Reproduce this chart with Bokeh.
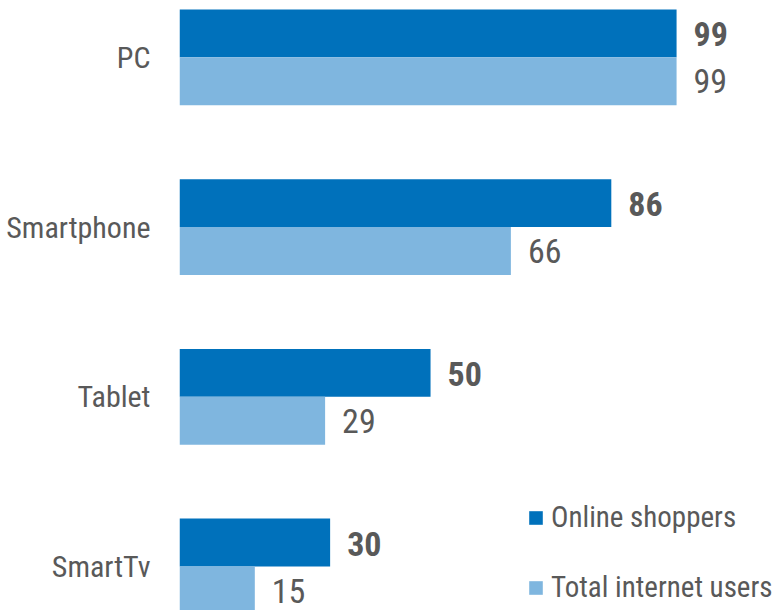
from bokeh.plotting import figure
from bokeh.models import Range1d, ColumnDataSource, Legend, LegendItem, FixedTicker
from bokeh.transform import dodge
from bokeh.embed import file_html
from bokeh.resources import INLINE
from bokeh.core.properties import value

categories = ["PC", "Smartphone", "Tablet", "SmartTv"]
online_shoppers = [99, 86, 50, 30]
total_internet_users = [99, 66, 29, 15]
series_names = ["Online shoppers", "Total internet users"]

FONT = "'Roboto Condensed', 'Liberation Sans Narrow', Roboto, sans-serif"
TEXT_COLOR = "#595959"
DARK = "#0071BB"
LIGHT = "#7FB6DF"

n = len(categories)
ypos = [n - 1 - i for i in range(n)]

src = ColumnDataSource(dict(
    y=ypos, cat=categories,
    a=online_shoppers, b=total_internet_users,
    a_lbl=[str(v) for v in online_shoppers],
    b_lbl=[str(v) for v in total_internet_users],
))

p = figure(width=777, height=610, output_backend="svg", toolbar_location=None,
           x_range=Range1d(0, 119.1), y_range=Range1d(-0.259, 3.335),
           min_border_left=179, min_border_right=0, min_border_top=0, min_border_bottom=0)
p.outline_line_color = None
p.grid.visible = False
p.xaxis.visible = False
p.background_fill_color = "white"
p.border_fill_color = "white"

yax = p.yaxis[0]
yax.ticker = FixedTicker(ticks=ypos)
yax.major_label_overrides = {y: c for y, c in zip(ypos, categories)}
yax.axis_line_color = None
yax.major_tick_line_color = None
yax.minor_tick_line_color = None
yax.major_tick_out = 0
yax.major_tick_in = 0
yax.major_label_standoff = 29
yax.major_label_text_font = FONT
yax.major_label_text_font_size = "30px"
yax.major_label_text_color = TEXT_COLOR

h = 0.2824
off = h / 2
r1 = p.hbar(y=dodge("y", off, range=p.y_range), right="a", left=0, height=h,
            source=src, fill_color=DARK, line_color=None)
r2 = p.hbar(y=dodge("y", -off, range=p.y_range), right="b", left=0, height=h,
            source=src, fill_color=LIGHT, line_color=None)

p.text(x="a", y=dodge("y", off, range=p.y_range), text="a_lbl", source=src,
       x_offset=17, y_offset=1, text_baseline="middle", text_align="left",
       text_font=value(FONT), text_font_style="bold", text_font_size="34px",
       text_color=TEXT_COLOR)
p.text(x="b", y=dodge("y", -off, range=p.y_range), text="b_lbl", source=src,
       x_offset=17, y_offset=0, text_baseline="middle", text_align="left",
       text_font=value(FONT), text_font_size="34px",
       text_color=TEXT_COLOR)

legend = Legend(items=[LegendItem(label=series_names[0], renderers=[r1]),
                       LegendItem(label=series_names[1], renderers=[r2])],
                location=(348, 6), orientation="vertical",
                glyph_width=17, glyph_height=17, label_standoff=7,
                padding=0, margin=0, spacing=36,
                border_line_color=None, background_fill_alpha=0,
                label_text_font=FONT, label_text_font_size="29px",
                label_text_color=TEXT_COLOR)
p.add_layout(legend)

open("out.html", "w").write(file_html(p, INLINE))
